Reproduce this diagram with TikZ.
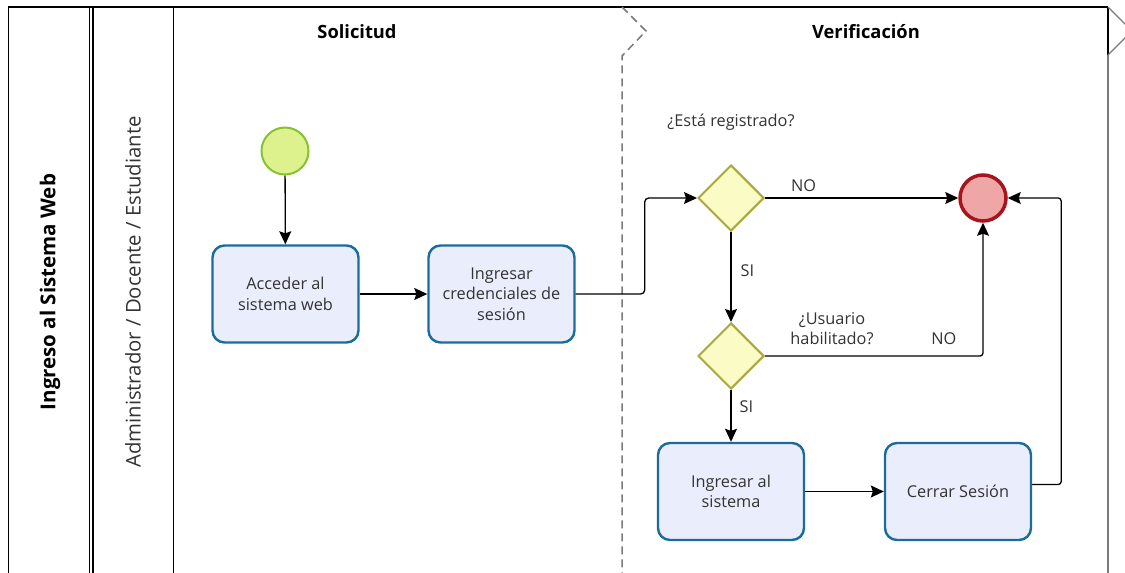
\documentclass[tikz,border=0pt]{standalone}
\usepackage{fontspec}
\setmainfont{Open Sans}
\usetikzlibrary{arrows.meta,shapes.geometric}
\definecolor{taskfill}{HTML}{E9EDFC}
\definecolor{taskline}{HTML}{1B6C9C}
\definecolor{gwfill}{HTML}{FBFBC6}
\definecolor{gwline}{HTML}{A8A83C}
\definecolor{startfill}{HTML}{DDF28C}
\definecolor{startline}{HTML}{86C232}
\definecolor{endfill}{HTML}{EEA6A6}
\definecolor{endline}{HTML}{A8141C}
\definecolor{txt}{HTML}{333333}
\definecolor{sep}{HTML}{7A7A7A}
\begin{document}
\begin{tikzpicture}[x=1pt,y=-1pt,
  every node/.style={font=\fontsize{16.3}{20.5}\selectfont, text=txt},
  taskbox/.style={draw=taskline, fill=taskfill, line width=2.4pt, rounded corners=12pt,
    minimum width=146pt, minimum height=97pt, align=center, inner sep=2pt},
  gateway/.style={diamond, draw=gwline, fill=gwfill, line width=2pt,
    minimum width=66pt, minimum height=66pt, inner sep=0pt},
  startev/.style={circle, draw=startline, fill=startfill, line width=2pt, minimum size=47pt, inner sep=0pt},
  endev/.style={circle, draw=endline, fill=endfill, line width=3.5pt, minimum size=46pt, inner sep=0pt},
  flow/.style={draw=black, line width=1.3pt, -{Stealth[length=13pt,width=12pt,inset=2pt]}},
  flowlabel/.style={font=\fontsize{16.3}{20}\selectfont, text=txt, align=center, inner sep=0pt},
  phase/.style={font=\fontsize{18.3}{21}\selectfont\bfseries, text=black},
  divider/.style={draw=sep, line width=1.5pt, dash pattern=on 8pt off 5pt}]
\useasboundingbox (0,0) rectangle (1125,573);
\fill[white] (0,0) rectangle (1125,573);

% pool and lane frame
\draw[line width=2pt] (8.5,7) -- (1108,7);
\draw[line width=1.5pt] (8.5,6) -- (8.5,573);
\draw[line width=1pt] (89.5,7) -- (89.5,573);
\draw[line width=2pt] (93,7) -- (93,573);
\draw[line width=1.5pt] (173.5,7) -- (173.5,573);
\draw[line width=1.5pt] (1108,7) -- (1108,55);
\draw[sep, line width=1.2pt] (1108,55) -- (1108,573);
\draw[sep, line width=1.2pt] (1108,7) -- (1132,31) -- (1108,55);

% phase separator
\draw[divider] (622,7) -- (646,31) -- (622,56) -- (622,573);

% headers
\node[font=\fontsize{20.5}{24}\selectfont\bfseries, text=black, rotate=90] (pool) at (50,292) {Ingreso al Sistema Web};
\node[font=\fontsize{20.3}{24}\selectfont, text=txt, rotate=90] (lane) at (133,292) {Administrador / Docente / Estudiante};
\node[phase] (ph1) at (357,31.5) {Solicitud};
\node[phase] (ph2) at (866,31.5) {Verificación};

% events, tasks, gateways
\node[startev] (start) at (285,151) {};
\node[taskbox] (t1) at (285.5,294) {Acceder al\\sistema web};
\node[taskbox] (t2) at (501.5,294) {Ingresar\\credenciales de\\sesión};
\node[gateway] (g1) at (731,198) {};
\node[gateway] (g2) at (731,356) {};
\node[endev] (end) at (983,198) {};
\node[taskbox] (t3) at (731,491.5) {Ingresar al\\sistema};
\node[taskbox] (t4) at (958,491.5) {Cerrar Sesión};

% gateway labels
\node[flowlabel] (q1) at (731,122) {¿Está registrado?};
\node[flowlabel] (q2) at (832,329) {¿Usuario\\habilitado?};

% sequence flows
\draw[flow] (start) -- (t1);
\draw[flow] (t1) -- (t2);
\draw[flow, rounded corners=4pt] (t2.east) -- ++(69,0) |- (g1.west);
\draw[flow] (g1.east) -- (end.west) node[flowlabel, pos=0.2, above=6pt] (no1) {NO};
\draw[flow] (g1.south) -- (g2.north) node[flowlabel, pos=0.43, right=9pt] (si1) {SI};
\draw[flow, rounded corners=3pt] (g2.east) -| (end.south) node[flowlabel, pos=0.41, above=11pt] (no2) {NO};
\draw[flow] (g2.south) -- (t3.north) node[flowlabel, pos=0.33, right=8pt] (si2) {SI};
\draw[flow] (t3.east) -- (t4.west);
\draw[flow, rounded corners=3pt] ([yshift=7pt]t4.east) -- ++(29,0) |- (end.east);
\end{tikzpicture}
\end{document}
